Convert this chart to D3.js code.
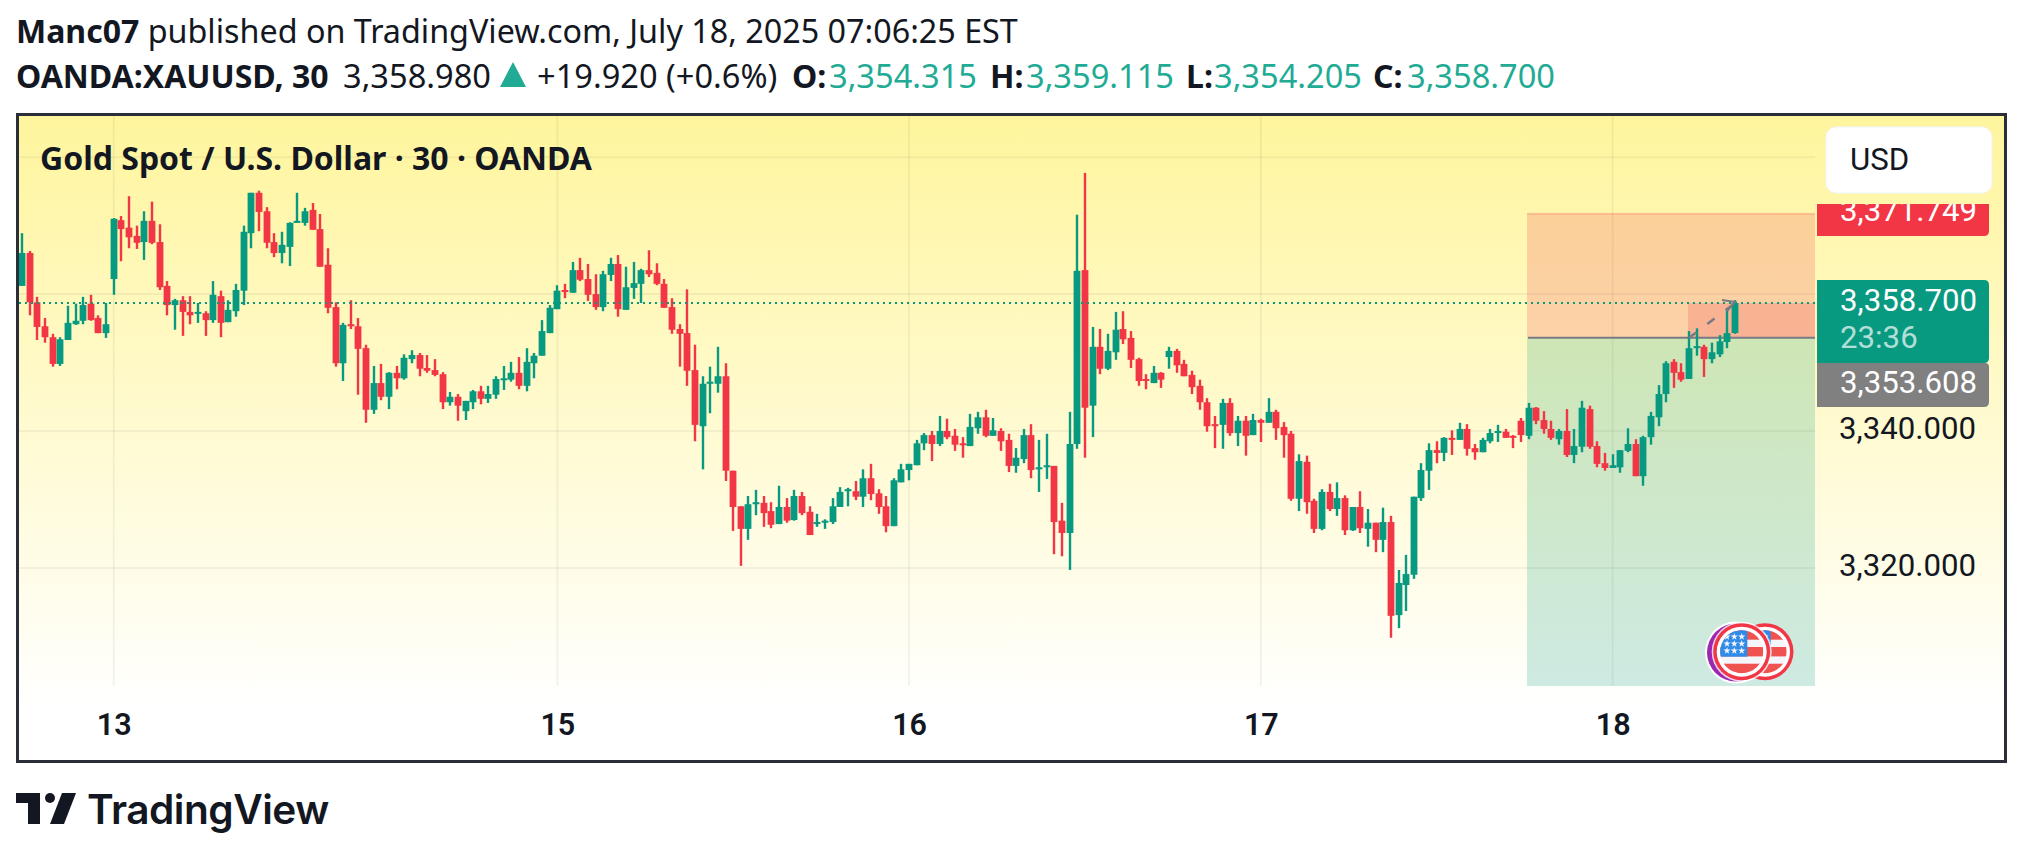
<!DOCTYPE html>
<html>
<head>
<meta charset="utf-8">
<title>XAUUSD 30</title>
<script src="https://cdn.jsdelivr.net/npm/d3@7"></script>
<style>
    html, body { margin: 0; padding: 0; background: #fff; }
    svg { display: block; }
    .head { font-family: "Noto Sans", sans-serif; fill: #131722; }
    .price { font-family: Roboto, sans-serif; }
</style>
</head>
<body>
<div class="canvas"></div>
<script>
// Candles, one entry per 30 minute bar
const opens = [
    3361.2, 3366.0, 3358.8, 3355.3, 3353.7, 3349.8, 3353.3, 3355.6, 3356.1, 3358.6,
    3356.5, 3354.3, 3362.2, 3370.8, 3369.7, 3368.5, 3367.6, 3370.7, 3367.6, 3361.2,
    3358.4, 3359.1, 3357.4, 3357.2, 3357.2, 3356.2, 3359.7, 3355.9, 3357.5, 3360.5,
    3368.9, 3374.8, 3372.1, 3367.6, 3366.0, 3366.9, 3370.4, 3370.4, 3372.3, 3369.5,
    3364.3, 3358.1, 3349.9, 3355.6, 3355.3, 3352.1, 3343.1, 3347.0, 3345.0, 3348.5,
    3347.7, 3350.5, 3351.1, 3349.2, 3348.9, 3348.3, 3344.2, 3345.0, 3342.9, 3344.2,
    3345.8, 3344.7, 3345.3, 3347.5, 3347.5, 3348.5, 3346.6, 3349.9, 3351.0, 3354.3,
    3357.8, 3360.6, 3360.2, 3363.5, 3362.2, 3360.0, 3358.1, 3362.8, 3364.4, 3357.7,
    3360.9, 3361.5, 3363.5, 3363.1, 3361.5, 3358.1, 3354.9, 3354.3, 3348.9, 3340.7,
    3346.9, 3346.9, 3348.0, 3334.2, 3329.0, 3325.7, 3329.3, 3329.5, 3328.3, 3326.4,
    3328.9, 3327.0, 3330.5, 3328.2, 3326.4, 3326.6, 3326.7, 3328.9, 3331.2, 3331.2,
    3330.4, 3333.1, 3330.9, 3329.0, 3326.1, 3332.5, 3334.3, 3335.0, 3338.2, 3339.4,
    3338.1, 3340.0, 3339.3, 3338.2, 3337.8, 3340.4, 3342.0, 3339.3, 3340.0, 3338.7,
    3334.9, 3335.9, 3339.4, 3334.4, 3334.7, 3334.9, 3326.9, 3325.1, 3338.1, 3363.5,
    3343.7, 3352.3, 3349.1, 3351.5, 3354.9, 3353.6, 3350.5, 3347.6, 3347.0, 3348.5,
    3350.8, 3351.7, 3349.8, 3348.2, 3346.6, 3344.2, 3341.0, 3340.9, 3344.1, 3339.7,
    3341.5, 3339.4, 3341.6, 3341.2, 3342.8, 3340.6, 3339.6, 3330.1, 3335.5, 3329.8,
    3325.7, 3331.1, 3328.6, 3330.2, 3325.5, 3328.9, 3325.7, 3326.6, 3324.1, 3326.7,
    3313.1, 3317.5, 3319.0, 3330.2, 3334.2, 3337.2, 3336.8, 3339.0, 3338.7, 3340.3,
    3337.5, 3336.9, 3338.5, 3339.7, 3339.9, 3339.3, 3341.5, 3339.3, 3343.4, 3341.6,
    3340.3, 3338.8, 3340.0, 3336.5, 3337.7, 3343.2, 3337.8, 3335.3, 3334.6, 3334.7,
    3337.1, 3338.1, 3333.4, 3339.1, 3342.0, 3345.4, 3350.1, 3348.6, 3347.6, 3352.1,
    3352.3, 3350.5, 3351.2, 3353.0, 3354.315
];
const highs = [
    3368.9, 3366.3, 3359.6, 3356.5, 3354.2, 3353.7, 3358.3, 3358.6, 3359.6, 3359.9,
    3356.9, 3358.7, 3371.1, 3371.4, 3374.3, 3370.0, 3372.1, 3373.5, 3370.2, 3361.9,
    3359.3, 3359.7, 3359.7, 3358.7, 3357.5, 3361.9, 3360.5, 3359.1, 3361.5, 3370.0,
    3374.8, 3375.1, 3372.7, 3368.9, 3369.1, 3370.5, 3374.8, 3372.6, 3373.3, 3371.7,
    3366.7, 3358.8, 3355.8, 3359.1, 3356.5, 3352.6, 3349.5, 3349.8, 3348.6, 3349.5,
    3351.2, 3351.8, 3351.4, 3351.1, 3350.5, 3348.6, 3345.7, 3345.4, 3344.4, 3346.0,
    3346.6, 3346.6, 3348.0, 3349.5, 3350.1, 3350.8, 3352.1, 3351.4, 3356.2, 3358.4,
    3361.3, 3361.5, 3364.7, 3365.3, 3364.4, 3362.9, 3363.4, 3365.3, 3365.7, 3364.0,
    3364.7, 3363.7, 3366.4, 3364.5, 3362.2, 3359.4, 3355.6, 3360.7, 3352.6, 3348.0,
    3349.4, 3352.3, 3349.9, 3334.2, 3329.0, 3330.5, 3331.4, 3330.5, 3329.6, 3332.0,
    3330.2, 3331.4, 3331.1, 3329.0, 3327.9, 3327.1, 3330.2, 3331.8, 3331.7, 3332.7,
    3334.4, 3335.2, 3331.5, 3330.5, 3333.1, 3335.2, 3335.2, 3338.7, 3339.7, 3340.0,
    3342.2, 3341.8, 3340.3, 3339.1, 3342.5, 3342.8, 3343.1, 3341.9, 3340.4, 3339.6,
    3337.5, 3340.3, 3341.0, 3338.7, 3339.6, 3334.9, 3329.5, 3342.8, 3371.6, 3377.7,
    3355.2, 3354.9, 3354.2, 3357.4, 3357.5, 3354.6, 3350.7, 3348.3, 3349.5, 3348.6,
    3352.3, 3352.0, 3350.4, 3348.8, 3347.5, 3344.8, 3342.2, 3344.7, 3344.8, 3342.2,
    3342.2, 3342.5, 3341.8, 3344.8, 3343.1, 3341.3, 3340.0, 3336.6, 3336.4, 3330.1,
    3331.5, 3332.3, 3332.5, 3330.6, 3328.9, 3331.2, 3328.6, 3326.6, 3328.8, 3327.6,
    3319.7, 3321.9, 3330.4, 3335.3, 3338.2, 3338.5, 3339.1, 3340.1, 3341.2, 3341.0,
    3338.1, 3339.0, 3340.3, 3340.9, 3340.3, 3339.4, 3341.9, 3344.1, 3343.5, 3342.9,
    3341.5, 3340.3, 3343.2, 3340.3, 3344.4, 3343.7, 3338.5, 3336.8, 3336.6, 3337.2,
    3340.4, 3338.8, 3339.3, 3342.8, 3346.7, 3350.2, 3350.5, 3349.9, 3354.6, 3355.0,
    3352.6, 3352.9, 3354.0, 3357.8, 3359.115
];
const lows = [
    3361.2, 3356.9, 3353.3, 3352.9, 3349.4, 3349.5, 3353.3, 3355.5, 3355.6, 3356.1,
    3354.3, 3353.6, 3359.9, 3364.8, 3366.7, 3366.6, 3365.0, 3367.3, 3360.6, 3356.9,
    3354.8, 3353.9, 3355.6, 3355.8, 3353.9, 3355.8, 3353.7, 3355.9, 3356.7, 3358.4,
    3366.7, 3369.2, 3366.7, 3365.4, 3364.5, 3364.1, 3370.4, 3370.0, 3369.4, 3364.0,
    3357.2, 3349.4, 3347.3, 3354.9, 3345.3, 3341.2, 3342.5, 3344.5, 3343.2, 3346.1,
    3347.5, 3349.9, 3348.0, 3348.5, 3348.0, 3343.2, 3343.7, 3341.5, 3341.6, 3343.2,
    3343.9, 3344.1, 3344.7, 3346.0, 3347.2, 3346.1, 3345.8, 3347.7, 3351.0, 3354.3,
    3357.8, 3359.4, 3360.2, 3361.9, 3359.0, 3357.7, 3357.5, 3361.9, 3356.7, 3357.7,
    3359.3, 3358.7, 3362.5, 3361.3, 3358.0, 3354.2, 3349.4, 3346.6, 3338.5, 3334.4,
    3342.6, 3345.6, 3332.7, 3325.4, 3320.3, 3324.1, 3327.7, 3326.0, 3325.8, 3326.4,
    3326.6, 3326.9, 3327.7, 3324.8, 3326.0, 3325.7, 3326.4, 3328.9, 3329.0, 3329.9,
    3328.9, 3329.9, 3327.9, 3325.2, 3326.1, 3332.5, 3332.8, 3335.0, 3337.2, 3335.6,
    3337.8, 3338.8, 3337.1, 3336.1, 3337.8, 3339.6, 3339.1, 3339.3, 3337.1, 3334.0,
    3333.9, 3335.3, 3333.1, 3331.1, 3333.0, 3322.0, 3321.7, 3319.7, 3337.4, 3336.1,
    3339.1, 3348.3, 3348.9, 3350.4, 3352.7, 3349.2, 3346.6, 3346.1, 3347.0, 3346.3,
    3349.1, 3348.5, 3348.0, 3345.4, 3343.1, 3339.9, 3337.5, 3337.4, 3339.3, 3337.8,
    3336.4, 3339.4, 3338.4, 3341.2, 3338.7, 3336.1, 3329.8, 3328.3, 3327.9, 3325.1,
    3325.5, 3328.3, 3327.6, 3324.8, 3325.4, 3325.1, 3323.1, 3322.3, 3322.3, 3309.8,
    3311.2, 3313.7, 3318.4, 3329.8, 3331.4, 3335.3, 3335.6, 3336.5, 3338.7, 3336.4,
    3335.8, 3336.9, 3338.2, 3338.4, 3339.0, 3337.5, 3338.4, 3338.8, 3341.0, 3339.6,
    3338.7, 3338.0, 3336.2, 3335.3, 3336.9, 3337.4, 3334.7, 3334.2, 3334.6, 3333.9,
    3336.9, 3333.4, 3332.0, 3338.0, 3340.7, 3344.2, 3346.3, 3347.2, 3347.6, 3351.0,
    3347.9, 3349.9, 3350.8, 3352.1, 3354.205
];
const closes = [
    3366.0, 3358.8, 3355.2, 3353.7, 3349.8, 3353.4, 3355.8, 3356.1, 3358.4, 3356.2,
    3354.3, 3355.6, 3371.0, 3369.5, 3368.3, 3367.5, 3370.7, 3367.5, 3361.0, 3358.4,
    3359.1, 3357.4, 3356.9, 3357.4, 3356.2, 3359.9, 3355.8, 3357.7, 3360.6, 3369.1,
    3374.8, 3372.0, 3367.5, 3366.0, 3367.2, 3370.4, 3370.7, 3372.1, 3369.4, 3364.0,
    3358.0, 3349.9, 3355.5, 3355.3, 3352.0, 3343.1, 3347.0, 3345.0, 3348.5, 3347.7,
    3350.7, 3351.1, 3349.1, 3348.8, 3348.2, 3344.2, 3345.0, 3343.7, 3344.4, 3345.8,
    3344.7, 3345.4, 3347.6, 3347.7, 3348.5, 3346.6, 3350.1, 3351.0, 3354.6, 3358.0,
    3360.5, 3360.3, 3363.5, 3362.1, 3359.9, 3358.1, 3362.9, 3364.4, 3357.8, 3361.0,
    3361.6, 3363.5, 3362.9, 3361.5, 3358.0, 3354.8, 3354.2, 3348.8, 3340.9, 3346.9,
    3347.2, 3348.0, 3334.2, 3328.9, 3325.7, 3329.3, 3329.6, 3328.0, 3326.3, 3328.9,
    3326.9, 3330.5, 3328.0, 3324.8, 3326.7, 3326.9, 3329.0, 3331.1, 3331.5, 3330.4,
    3333.1, 3330.8, 3328.9, 3326.1, 3332.8, 3334.4, 3335.2, 3338.2, 3339.4, 3338.1,
    3340.0, 3339.1, 3338.0, 3338.0, 3340.6, 3342.0, 3339.3, 3340.1, 3338.5, 3334.9,
    3336.1, 3339.4, 3334.3, 3334.7, 3335.0, 3326.7, 3325.1, 3338.1, 3363.4, 3343.4,
    3352.3, 3349.1, 3351.7, 3354.8, 3353.4, 3350.4, 3347.3, 3347.3, 3348.5, 3347.5,
    3351.7, 3349.6, 3348.0, 3346.4, 3344.2, 3340.7, 3340.7, 3344.1, 3339.7, 3341.5,
    3339.3, 3341.6, 3341.2, 3342.8, 3340.4, 3339.4, 3330.1, 3335.6, 3329.6, 3325.7,
    3331.1, 3328.6, 3330.2, 3325.5, 3328.9, 3325.8, 3326.6, 3324.1, 3326.7, 3313.0,
    3317.8, 3319.1, 3330.4, 3334.3, 3337.2, 3336.8, 3339.0, 3338.7, 3340.3, 3337.4,
    3336.9, 3338.7, 3339.7, 3340.0, 3339.0, 3339.0, 3339.4, 3343.4, 3341.5, 3340.3,
    3339.0, 3340.0, 3336.5, 3337.8, 3343.4, 3337.7, 3335.2, 3334.6, 3335.0, 3337.2,
    3338.1, 3333.4, 3339.1, 3342.2, 3345.4, 3349.9, 3348.5, 3347.5, 3352.1, 3352.4,
    3350.5, 3351.5, 3353.1, 3354.3, 3358.7
];

// Axis ticks: bar index of each day start and the round price levels
const dayTicks = [12, 70, 116, 162, 208];
const dayLabels = ["13", "15", "16", "17", "18"];
const gridPrices = [3380, 3360, 3340, 3320];
const priceTicks = [3340, 3320];

// Position drawing and price tags
const lastClose = 3358.7;
const stopPrice = 3371.749;
const entryPrice = 3353.608;
const countdown = "23:36";

const width = 2023, height = 858;
const frame = { left: 17.5, top: 114.5, right: 2005.5, bottom: 761.5 };
const plotRight = 1815, plotBottom = 686;

const svg = d3.select(".canvas")
    .append("svg")
    .attr("width", width)
    .attr("height", height);

const x = d3.scaleLinear().domain([0, 224]).range([22, 1735]);
const y = d3.scaleLinear().domain([3320, 3380]).range([567.9, 157.2]);

const green = "#089981", red = "#f23645", dark = "#131722", teal = "#22ab94";

const defs = svg.append("defs");
const grad = defs.append("linearGradient")
    .attr("id", "bg").attr("x1", 0).attr("x2", 0).attr("y1", 0).attr("y2", 1);
grad.append("stop").attr("offset", 0).attr("stop-color", "#fff59d");
grad.append("stop").attr("offset", 0.92).attr("stop-color", "#ffffff");
defs.append("clipPath").attr("id", "plotClip").append("rect")
    .attr("x", 19).attr("y", 116).attr("width", plotRight - 19).attr("height", plotBottom - 116);

/* === Header === */
const line1 = svg.append("text").attr("class", "head").attr("x", 16).attr("y", 43).attr("font-size", 32.3);
line1.append("tspan").attr("font-weight", 700).attr("font-size", 32).text("Manc07");
line1.append("tspan").text(" published on TradingView.com, July 18, 2025 07:06:25 EST");

// second line is placed piece by piece, the gaps in it are not regular
const headPieces = [
    { x: 16, t: "OANDA:XAUUSD, 30", bold: true },
    { x: 343, t: "3,358.980" },
    { x: 537, t: "+19.920 (+0.6%)" },
    { x: 792, t: "O:", bold: true },
    { x: 829, t: "3,354.315", fill: teal },
    { x: 990, t: "H:", bold: true },
    { x: 1026, t: "3,359.115", fill: teal },
    { x: 1186, t: "L:", bold: true },
    { x: 1214, t: "3,354.205", fill: teal },
    { x: 1373, t: "C:", bold: true },
    { x: 1407, t: "3,358.700", fill: teal }
];
svg.selectAll(".piece").data(headPieces).enter().append("text")
    .attr("class", "head piece")
    .attr("x", d => d.x)
    .attr("y", 88)
    .attr("font-size", d => d.bold ? 32 : 32.6)
    .attr("font-weight", d => d.bold ? 700 : 400)
    .style("fill", d => d.fill || dark)
    .text(d => d.t);
svg.append("path").attr("d", "M500,87 L526,87 L513,62 Z").attr("fill", teal);

/* === Chart background and grid === */
svg.append("rect")
    .attr("x", frame.left).attr("y", frame.top)
    .attr("width", frame.right - frame.left).attr("height", frame.bottom - frame.top)
    .attr("fill", "url(#bg)");

const grid = svg.append("g").attr("stroke", "rgba(42,46,57,0.06)").attr("stroke-width", 2);
grid.selectAll(".h").data(gridPrices).enter().append("line")
    .attr("x1", 19).attr("x2", plotRight)
    .attr("y1", d => y(d)).attr("y2", d => y(d));
grid.selectAll(".v").data(dayTicks).enter().append("line")
    .attr("x1", d => x(d)).attr("x2", d => x(d))
    .attr("y1", 116).attr("y2", plotBottom);

svg.append("text").attr("class", "head")
    .attr("x", 40).attr("y", 170)
    .attr("font-size", 32).attr("font-weight", 700)
    .text("Gold Spot / U.S. Dollar · 30 · OANDA");

/* === Position tool === */
const boxLeft = 1527, profitLeft = 1688;
const boxes = [
    { x0: boxLeft, p0: stopPrice, p1: entryPrice, fill: "rgba(242,54,69,0.2)" },
    { x0: profitLeft, p0: lastClose, p1: entryPrice, fill: "rgba(242,54,69,0.2)" }
];
svg.selectAll(".box").data(boxes).enter().append("rect")
    .attr("x", d => d.x0).attr("width", d => plotRight - d.x0)
    .attr("y", d => y(d.p0)).attr("height", d => y(d.p1) - y(d.p0))
    .attr("fill", d => d.fill);
svg.append("rect")
    .attr("x", boxLeft).attr("width", plotRight - boxLeft)
    .attr("y", y(entryPrice)).attr("height", plotBottom - y(entryPrice))
    .attr("fill", "rgba(8,153,129,0.2)");
svg.append("line")
    .attr("x1", boxLeft).attr("x2", plotRight)
    .attr("y1", y(stopPrice)).attr("y2", y(stopPrice))
    .attr("stroke", "rgba(242,54,69,0.2)").attr("stroke-width", 2);
svg.append("line")
    .attr("x1", boxLeft + 1).attr("x2", plotRight)
    .attr("y1", y(entryPrice)).attr("y2", y(entryPrice))
    .attr("stroke", "#787b86").attr("stroke-width", 2);

/* === Candles === */
const candles = opens.map((o, i) => ({ i, o, h: highs[i], l: lows[i], c: closes[i] }));
const cx = d => Math.round(x(d.i));
const candleColour = d => d.c >= d.o ? green : red;
const plot = svg.append("g").attr("clip-path", "url(#plotClip)");

plot.selectAll(".wick").data(candles).enter().append("rect")
    .attr("class", "wick")
    .attr("x", d => cx(d) - 1.2)
    .attr("width", 2.4)
    .attr("y", d => y(d.h))
    .attr("height", d => y(d.l) - y(d.h))
    .attr("fill", candleColour);
plot.selectAll(".body").data(candles).enter().append("rect")
    .attr("class", "body")
    .attr("x", d => cx(d) - 3.4)
    .attr("width", 6.8)
    .attr("y", d => y(Math.max(d.o, d.c)))
    .attr("height", d => Math.max(2, Math.abs(y(d.o) - y(d.c))))
    .attr("fill", candleColour);

// last price line
svg.append("line")
    .attr("x1", 19).attr("x2", plotRight)
    .attr("y1", y(lastClose)).attr("y2", y(lastClose))
    .attr("stroke", green).attr("stroke-width", 2).attr("stroke-dasharray", "2 4");

// dashed arrow of the position tool
svg.append("line")
    .attr("x1", profitLeft + 1).attr("y1", y(entryPrice))
    .attr("x2", x(224)).attr("y2", y(lastClose))
    .attr("stroke", "#787b86").attr("stroke-width", 2.5).attr("stroke-dasharray", "9 14");
svg.append("path")
    .attr("d", `M${x(224) - 13},${y(lastClose) - 3} L${x(224)},${y(lastClose) - 1} L${x(224) - 8},${y(lastClose) + 8}`)
    .attr("fill", "none").attr("stroke", "#787b86").attr("stroke-width", 2);

/* === Axes === */
const xAxis = d3.axisBottom(x).tickValues(dayTicks).tickFormat((d, i) => dayLabels[i]).tickSize(0).tickPadding(0);
const xAxisGroup = svg.append("g").attr("transform", "translate(0, 713)").call(xAxis);
xAxisGroup.select(".domain").remove();
xAxisGroup.selectAll("text")
    .attr("font-family", "Roboto, sans-serif")
    .attr("font-size", 30.5)
    .attr("font-weight", 600)
    .attr("fill", dark);

const yAxis = d3.axisRight(y).tickValues(priceTicks).tickFormat(d3.format(",.3f")).tickSize(0).tickPadding(0);
const yAxisGroup = svg.append("g").attr("transform", "translate(1839, -2)").call(yAxis);
yAxisGroup.select(".domain").remove();
yAxisGroup.selectAll("text")
    .attr("font-family", "Roboto, sans-serif")
    .attr("font-size", 31.2)
    .attr("fill", dark);

/* === Price tags === */
const tagLeft = 1817, tagWidth = 172;
defs.append("clipPath").attr("id", "stopClip").append("rect")
    .attr("x", tagLeft).attr("y", 204).attr("width", tagWidth).attr("height", 32);

function tag(y0, y1, fill, r) {
    svg.append("path")
        .attr("d", `M${tagLeft},${y0} H${tagLeft + tagWidth - r[0]} Q${tagLeft + tagWidth},${y0} ${tagLeft + tagWidth},${y0 + r[0]}
            V${y1 - r[1]} Q${tagLeft + tagWidth},${y1} ${tagLeft + tagWidth - r[1]},${y1} H${tagLeft} Z`)
        .attr("fill", fill);
}
function tagText(yBase, t, fill) {
    return svg.append("text").attr("class", "price")
        .attr("x", 1840).attr("y", yBase)
        .attr("font-size", 31.2).attr("fill", fill).text(t);
}
tag(204, 236, red, [0, 5]);
tagText(221, d3.format(",.3f")(stopPrice), "#fff").attr("clip-path", "url(#stopClip)");
tag(363, 407, "#808080", [4, 5]);
tagText(393, d3.format(",.3f")(entryPrice), "#fff");
tag(280, 363, green, [5, 5]);
tagText(311, d3.format(",.3f")(lastClose), "#fff");
tagText(348, countdown, "rgba(255,255,255,0.7)");

// currency button
svg.append("rect")
    .attr("x", 1826).attr("y", 127).attr("width", 166).attr("height", 66).attr("rx", 10)
    .attr("fill", "#fff").attr("stroke", "#f0f3fa").attr("stroke-width", 1);
svg.append("text").attr("class", "price")
    .attr("x", 1850).attr("y", 170).attr("font-size", 31.2).attr("fill", dark).text("USD");

/* === Event flags === */
const starRows = [-15, -8, -1], starCols = [-14.7, -7.4, 0];
function flag(fx, fy, id) {
    const g = svg.append("g").attr("transform", `translate(${fx},${fy})`);
    defs.append("clipPath").attr("id", id).append("circle").attr("r", 21.5).attr("cx", fx).attr("cy", fy);
    g.append("circle").attr("r", 28.5).attr("fill", red);
    g.append("circle").attr("r", 25).attr("fill", "#fff");
    const inner = svg.append("g").attr("clip-path", `url(#${id})`)
        .append("g").attr("transform", `translate(${fx},${fy})`);
    inner.append("rect").attr("x", -22).attr("y", -22).attr("width", 44).attr("height", 44).attr("fill", "#f5f5fc");
    [[-22, -12], [-4.7, 4.7], [12, 22]].forEach(s => {
        inner.append("rect").attr("x", -22).attr("y", s[0]).attr("width", 44).attr("height", s[1] - s[0]).attr("fill", "#f0534f");
    });
    inner.append("rect").attr("x", -22).attr("y", -22).attr("width", 27.6).attr("height", 27).attr("fill", "#2f8be8");
    starRows.forEach(sy => starCols.forEach(sx => {
        inner.append("path")
            .attr("d", d3.symbol(d3.symbolStar, 16)())
            .attr("transform", `translate(${sx},${sy})`)
            .attr("fill", "#f5f5fc");
    }));
}
svg.append("circle").attr("cx", 1736).attr("cy", 652.5).attr("r", 31).attr("fill", "#fff");
svg.append("circle").attr("cx", 1736).attr("cy", 652.5).attr("r", 29).attr("fill", "#9c27b0");
flag(1765, 651.7, "flagBack");
svg.append("circle").attr("cx", 1741.7).attr("cy", 651.7).attr("r", 30).attr("fill", "#fff").attr("fill-opacity", 0.8);
flag(1741.7, 651.7, "flagFront");

/* === Frame === */
svg.append("rect")
    .attr("x", frame.left).attr("y", frame.top)
    .attr("width", frame.right - frame.left).attr("height", frame.bottom - frame.top)
    .attr("fill", "none").attr("stroke", "#2a2e39").attr("stroke-width", 3);

/* === Logo === */
const logo = svg.append("g").attr("fill", dark);
logo.append("path").attr("d", "M16,793 H40 V824 H28 V803 H16 Z");
logo.append("circle").attr("cx", 50).attr("cy", 798).attr("r", 5);
logo.append("path").attr("d", "M62,793 H76 L64,824 H50 Z");
logo.append("text")
    .attr("x", 87).attr("y", 823.5)
    .attr("font-family", "Inter, sans-serif")
    .attr("font-size", 40.6).attr("font-weight", 600).attr("letter-spacing", -0.5)
    .text("TradingView");
</script>
</body>
</html>
